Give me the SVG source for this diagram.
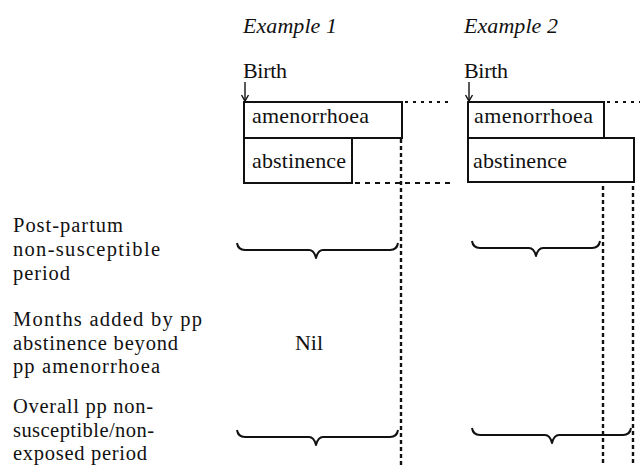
<svg xmlns="http://www.w3.org/2000/svg" width="640" height="466" viewBox="0 0 640 466">
<style>
text{font-family:"Liberation Serif","Times New Roman",serif;font-size:22px;fill:#111}
.lab{font-size:20.5px}
.it{font-style:italic}
.box{fill:none;stroke:#111;stroke-width:2}
.brace{fill:none;stroke:#111;stroke-width:2;stroke-linejoin:round}
.dot{fill:none;stroke:#111;stroke-width:2;stroke-dasharray:3 5}
.dash{fill:none;stroke:#111;stroke-width:2;stroke-dasharray:5 5}
.vdash{fill:none;stroke:#111;stroke-width:2.4;stroke-dasharray:4 3}
.arr{fill:none;stroke:#111;stroke-width:1.4}
</style>
<defs>
<path id="ah" d="M-3.5,-6 L0,0 L3.5,-6" fill="none" stroke="#111" stroke-width="1.4"/>
</defs>
<rect width="640" height="466" fill="#fff"/>

<g id="labels" class="lab">
<g id="label-pp">
<text class="lab" x="13" y="232" textLength="110">Post-partum</text>
<text class="lab" x="13" y="256" textLength="147">non-susceptible</text>
<text class="lab" x="13" y="280" textLength="57">period</text>
</g>
<g id="label-months">
<text class="lab" x="13" y="326" textLength="189">Months added by pp</text>
<text class="lab" x="13" y="349.5" textLength="165">abstinence beyond</text>
<text class="lab" x="13" y="373" textLength="147">pp amenorrhoea</text>
</g>
<g id="label-overall">
<text class="lab" x="13" y="413" textLength="140">Overall pp non-</text>
<text class="lab" x="13" y="437" textLength="141">susceptible/non-</text>
<text class="lab" x="13" y="460" textLength="134">exposed period</text>
</g>
</g>

<g id="example1">
<text class="it" x="243" y="33" textLength="94">Example 1</text>
<text x="243" y="78" textLength="44">Birth</text>
<g id="ex1-amenorrhoea">
<rect class="box" x="244" y="102" width="158" height="36"/>
<text x="252" y="123" textLength="117">amenorrhoea</text>
</g>
<g id="ex1-abstinence">
<rect class="box" x="244" y="138" width="108" height="45"/>
<text x="252" y="168" textLength="94">abstinence</text>
</g>
<g id="ex1-brace1"><path class="brace" d="M237,243 Q238,250 245,250 L309,250 Q314,250 316,258 Q318,250 323,250 L390,250 Q397,250 398,243"/></g>
<g id="ex1-nil"><text x="295" y="350" textLength="28">Nil</text></g>
<g id="ex1-brace2"><path class="brace" d="M237,430 Q238,437 245,437 L309,437 Q314,437 316,445 Q318,437 323,437 L390,437 Q397,437 398,430"/></g>
</g>

<g id="example2">
<text class="it" x="464" y="33" textLength="94">Example 2</text>
<text x="464" y="78" textLength="44">Birth</text>
<g id="ex2-amenorrhoea">
<rect class="box" x="468" y="102" width="136" height="36"/>
<text x="474" y="123" textLength="119">amenorrhoea</text>
</g>
<g id="ex2-abstinence">
<rect class="box" x="468" y="138" width="166" height="44"/>
<text x="473" y="168" textLength="94">abstinence</text>
</g>
<g id="ex2-brace1"><path class="brace" d="M472,241 Q473,248 480,248 L529,248 Q534,248 536,256 Q538,248 543,248 L592,248 Q599,248 600,241"/></g>
<g id="ex2-brace2"><path class="brace" d="M472,428 Q473,435 480,435 L545,435 Q550,435 552,443 Q554,435 559,435 L623,435 Q630,435 631,428"/></g>
</g>

<g id="connectors">
<line class="arr" x1="245" y1="82" x2="245" y2="101"/>
<use href="#ah" x="245" y="101"/>
<line class="arr" x1="469" y1="82" x2="469" y2="101"/>
<use href="#ah" x="469" y="101"/>
<line class="dot" x1="405" y1="102" x2="450" y2="102"/>
<line class="dot" x1="607" y1="102" x2="640" y2="102"/>
<line class="dash" x1="355" y1="183" x2="450" y2="183"/>
<line class="vdash" x1="401" y1="139" x2="401" y2="466"/>
<line class="vdash" x1="603" y1="186" x2="603" y2="466"/>
<line class="vdash" x1="633" y1="186" x2="633" y2="466"/>
</g>
</svg>
